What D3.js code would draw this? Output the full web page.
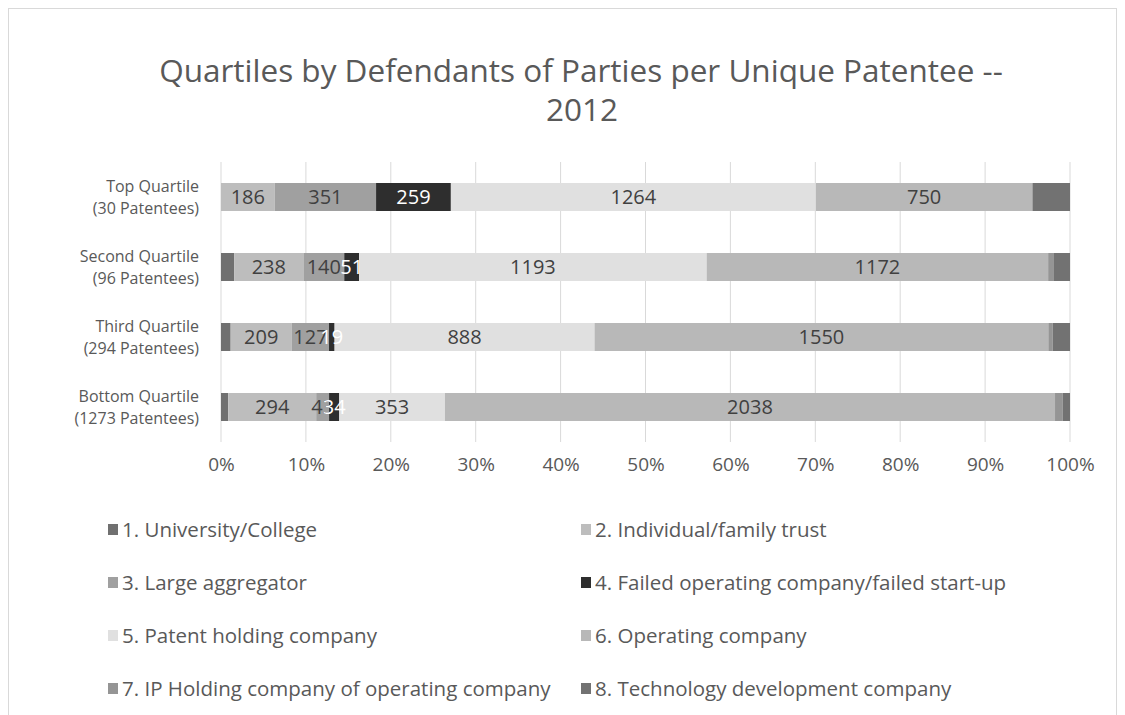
<!DOCTYPE html>
<html lang="en">
<head>
  <meta charset="UTF-8">
  <title>Quartiles by Defendants of Parties per Unique Patentee -- 2012</title>
  <script src="https://d3js.org/d3.v7.min.js"></script>
  <style>
    body { margin: 0; background: #fff; }
    text { font-family: "Open Sans", "Noto Sans", sans-serif; fill: #595959; }
  </style>
</head>
<body>

  <svg width="1125" height="715"></svg>

  <script>
    // chart data
    const quartiles = ["Top Quartile|(30 Patentees)", "Second Quartile|(96 Patentees)",
                       "Third Quartile|(294 Patentees)", "Bottom Quartile|(1273 Patentees)"];
    const seriesNames = ["1. University/College", "2. Individual/family trust", "3. Large aggregator",
                         "4. Failed operating company/failed start-up", "5. Patent holding company",
                         "6. Operating company", "7. IP Holding company of operating company",
                         "8. Technology development company"];
    const university  = [0, 45, 33, 24];
    const individual  = [186, 238, 209, 294];
    const aggregator  = [351, 140, 127, 43];
    const failed      = [259, 51, 19, 34];
    const patentHold  = [1264, 1193, 888, 353];
    const operating   = [750, 1172, 1550, 2038];
    const ipHolding   = [0, 20, 15, 26];
    const techDev     = [130, 55, 59, 24];
    const xTicks = [0, 0.1, 0.2, 0.3, 0.4, 0.5, 0.6, 0.7, 0.8, 0.9, 1];

    const colors = ["#707070", "#bdbdbd", "#a0a0a0", "#2e2e2e", "#e0e0e0", "#b8b8b8", "#959595", "#727272"];
    const labelled = [false, true, true, true, true, true, false, false];
    const labelColor = ["#404040", "#404040", "#404040", "#ffffff", "#404040", "#404040", "#404040", "#404040"];

    const seriesValues = [university, individual, aggregator, failed, patentHold, operating, ipHolding, techDev];

    // build table for the stack
    const table = quartiles.map((q, i) => {
      const row = { quartile: q };
      seriesNames.forEach((s, j) => row[s] = seriesValues[j][i]);
      return row;
    });

    const svg = d3.select("svg");

    // outer border
    svg.append("rect")
      .attr("x", 8.5).attr("y", 8.5)
      .attr("width", 1108).attr("height", 720)
      .attr("fill", "none")
      .attr("stroke", "#d9d9d9");

    // title
    const title = svg.append("text")
      .attr("text-anchor", "middle")
      .style("font-size", "31.5px");
    title.append("tspan").attr("x", 581).attr("y", 82).text("Quartiles by Defendants of Parties per Unique Patentee --");
    title.append("tspan").attr("x", 582).attr("y", 121).text("2012");

    const plot = { left: 221, right: 1070, top: 162, bottom: 442 };

    const xScale = d3.scaleLinear().domain([0, 1]).range([plot.left, plot.right]);
    const yScale = d3.scaleBand().domain(quartiles).range([plot.top, plot.bottom]).paddingInner(0.6).paddingOuter(0.3);

    const stack = d3.stack().keys(seriesNames).offset(d3.stackOffsetExpand);
    const stacked = stack(table);

    // gridlines
    svg.append("g")
      .selectAll("line")
      .data(xTicks)
      .join("line")
      .attr("x1", d => xScale(d)).attr("x2", d => xScale(d))
      .attr("y1", plot.top).attr("y2", plot.bottom)
      .attr("stroke", "#d9d9d9")
      .attr("stroke-width", 1);

    // x axis labels
    const xAxis = d3.axisBottom(xScale).tickValues(xTicks).tickFormat(d3.format(".0%")).tickSize(0).tickPadding(16);
    const xg = svg.append("g")
      .attr("transform", `translate(0, ${plot.bottom})`)
      .call(xAxis);
    xg.select(".domain").remove();
    xg.selectAll("text").style("font-size", "19px").attr("fill", "#595959");

    // bars
    const layers = svg.append("g")
      .selectAll("g")
      .data(stacked)
      .join("g")
      .attr("fill", (d, i) => colors[i]);

    layers.selectAll("rect")
      .data(d => d)
      .join("rect")
      .attr("x", d => xScale(d[0]))
      .attr("width", d => xScale(d[1]) - xScale(d[0]))
      .attr("y", d => yScale(d.data.quartile))
      .attr("height", yScale.bandwidth());

    // value labels
    stacked.forEach((layer, i) => {
      if (!labelled[i]) return;
      svg.append("g")
        .selectAll("text")
        .data(layer)
        .join("text")
        .attr("x", d => (xScale(d[0]) + xScale(d[1])) / 2)
        .attr("y", d => yScale(d.data.quartile) + yScale.bandwidth() / 2)
        .attr("dy", "0.36em")
        .attr("text-anchor", "middle")
        .style("font-size", "20px")
        .style("fill", labelColor[i])
        .text(d => d.data[layer.key]);
    });

    // category labels
    const yLabels = svg.append("g")
      .selectAll("text")
      .data(quartiles)
      .join("text")
      .attr("text-anchor", "end")
      .style("font-size", "16px")
      .attr("y", d => yScale(d) + yScale.bandwidth() / 2);
    yLabels.append("tspan").attr("x", 199).attr("dy", "-0.3em").text(d => d.split("|")[0]);
    yLabels.append("tspan").attr("x", 199).attr("dy", "1.35em").text(d => d.split("|")[1]);

    // legend
    const legend = svg.append("g")
      .selectAll("g")
      .data(seriesNames)
      .join("g")
      .attr("transform", (d, i) => `translate(${i % 2 === 0 ? 108 : 581}, ${530 + Math.floor(i / 2) * 53})`);

    legend.append("rect")
      .attr("x", 0).attr("y", -6)
      .attr("width", 10).attr("height", 11)
      .attr("fill", (d, i) => colors[i]);

    legend.append("text")
      .attr("x", 14)
      .attr("dy", "0.35em")
      .style("font-size", "20.5px")
      .text(d => d);
  </script>

</body>
</html>
